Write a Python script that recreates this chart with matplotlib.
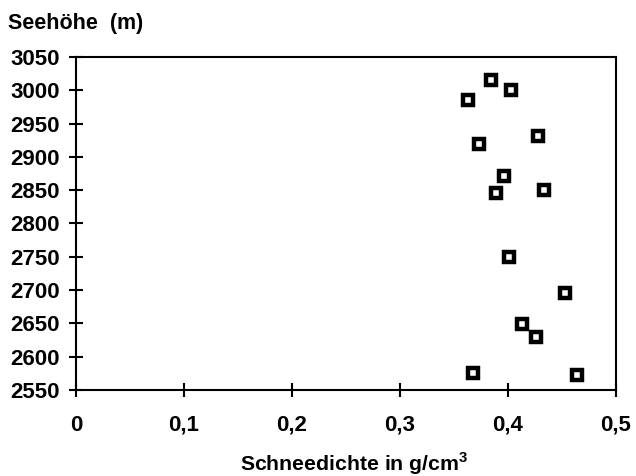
import matplotlib
matplotlib.use('Agg')

import numpy as np
import matplotlib.pyplot as plt

# snow density (g/cm3) vs altitude (m)
dichte = [0.384, 0.403, 0.363, 0.373, 0.428, 0.396, 0.389, 0.433,
          0.401, 0.453, 0.413, 0.426, 0.368, 0.464]
hoehe = [3016, 3001, 2986, 2920, 2931, 2871, 2846, 2850,
         2750, 2695, 2649, 2630, 2576, 2572]

xticks = [0, 0.1, 0.2, 0.3, 0.4, 0.5]
xticklabels = ['0', '0,1', '0,2', '0,3', '0,4', '0,5']
yticks = list(range(2550, 3051, 50))

plt.rcParams['font.family'] = ['Liberation Sans', 'DejaVu Sans']
plt.rcParams['mathtext.fontset'] = 'custom'
plt.rcParams['mathtext.bf'] = 'Liberation Sans:bold'

fig = plt.figure(figsize=(6.36, 4.76), dpi=100)
ax = fig.add_axes([0.1195, 0.1807, 0.849, 0.6996])

ax.plot(dichte, hoehe, linestyle='none', marker='s', markersize=7.6,
        markerfacecolor='white', markeredgecolor='black', markeredgewidth=3.2)

ax.set_xlim(0, 0.5)
ax.set_ylim(2550, 3050)
ax.set_xticks(xticks)
ax.set_xticklabels(xticklabels)
ax.set_yticks(yticks)

for s in ax.spines.values():
    s.set_linewidth(1.5)

ax.tick_params(axis='y', direction='inout', length=10, width=1.5, pad=6.5,
               labelsize=16, right=False)
ax.tick_params(axis='x', direction='inout', length=10, width=1.5, pad=13,
               labelsize=16, top=False)
for lab in ax.get_xticklabels() + ax.get_yticklabels():
    lab.set_fontweight('bold')

fig.text(8 / 636, 1 - 23 / 476, 'Seehöhe  (m)', fontsize=15.5, fontweight='bold',
         ha='left', va='center')
fig.text(354 / 636, 1 - 471 / 476, 'Schneedichte in g/cm$^\\mathbf{3}$', fontsize=15.3,
         fontweight='bold', ha='center', va='baseline')

fig.savefig('out.png', dpi=100)
